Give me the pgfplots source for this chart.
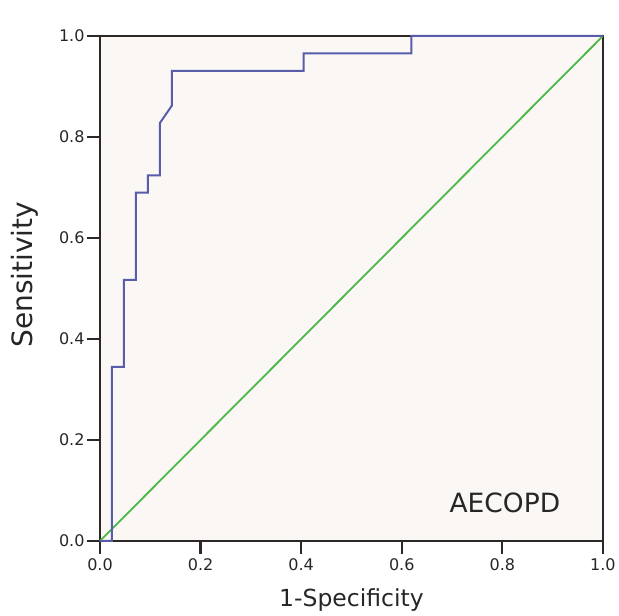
\documentclass[border=0pt]{standalone}
\usepackage{pgfplots}
\pgfplotsset{compat=1.18}
\usepackage{fontspec}
\setmainfont{DejaVu Sans}
\definecolor{rocblue}{RGB}{88,92,170}
\definecolor{refgreen}{RGB}{76,184,72}
\definecolor{panelbg}{RGB}{250,247,244}
\definecolor{axisgray}{RGB}{45,40,38}
\begin{document}
\begin{tikzpicture}
\begin{axis}[
  scale only axis,
  width=503pt, height=505pt,
  xmin=0, xmax=1, ymin=0, ymax=1,
  axis background/.style={fill=panelbg},
  axis line style={draw=axisgray, line width=2pt},
  xtick={0,0.2,...,1}, ytick={0,0.2,...,1},
  xtick pos=bottom, ytick pos=left,
  tick align=outside,
  major tick length=13pt,
  every tick/.style={draw=axisgray, line width=2.2pt},
  xticklabel style={/pgf/number format/fixed, /pgf/number format/fixed zerofill, /pgf/number format/precision=1, yshift=-1pt},
  yticklabel style={/pgf/number format/fixed, /pgf/number format/fixed zerofill, /pgf/number format/precision=1, xshift=1pt},
  ticklabel style={font=\fontsize{16}{18}\selectfont, text=black!85},
  xlabel={1-Specificity}, ylabel={Sensitivity},
  xlabel style={font=\fontsize{23.5}{26}\selectfont, text=black!85,
    at={(axis description cs:0.5,-0.117)}, anchor=center},
  ylabel style={font=\fontsize{28}{31}\selectfont, text=black!85,
    at={(axis description cs:-0.149,0.527)}, anchor=center},
  clip=false,
  /pgf/number format/assume math mode=true,
]
\addplot[refgreen, line width=1.8pt] coordinates {(0,0) (1,1)};
\addplot[rocblue, line width=2pt] coordinates {
  (0,0) (0.0238,0) (0.0238,0.3448) (0.0476,0.3448) (0.0476,0.5172)
  (0.0714,0.5172) (0.0714,0.6897) (0.0952,0.6897) (0.0952,0.7241)
  (0.1190,0.7241) (0.1190,0.8276) (0.1429,0.8621) (0.1429,0.9310)
  (0.4048,0.9310) (0.4048,0.9655) (0.6190,0.9655) (0.6190,1) (1,1)};
\node[font=\fontsize{26.5}{30}\selectfont, text=black!85] at (axis cs:0.805,0.075) {AECOPD};
\end{axis}
\path ([shift={(-100pt,-75pt)}]current axis.south west) ([shift={(16pt,36pt)}]current axis.north east);
\end{tikzpicture}
\end{document}
